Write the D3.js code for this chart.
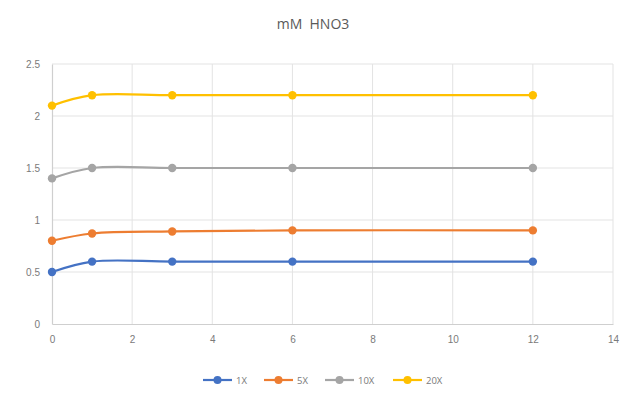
<!DOCTYPE html>
<html>
<head>
<meta charset="utf-8">
<script src="https://cdn.jsdelivr.net/npm/d3@7"></script>
<style>
  html, body { margin: 0; padding: 0; background: #fff; }
  svg { display: block; font-family: "Open Sans", "Liberation Sans", sans-serif; }
</style>
</head>
<body>
<svg id="chart" width="622" height="394"></svg>
<script>
// Sampling times
const times = [0, 1, 3, 6, 12];
// Concentration series
const seriesNames = ["1X", "5X", "10X", "20X"];
const values1X  = [0.5, 0.6, 0.6, 0.6, 0.6];
const values5X  = [0.8, 0.87, 0.89, 0.9, 0.9];
const values10X = [1.4, 1.5, 1.5, 1.5, 1.5];
const values20X = [2.1, 2.2, 2.2, 2.2, 2.2];
const seriesColors = ["#4472c4", "#ed7d31", "#a5a5a5", "#ffc000"];
const xTicks = [0, 2, 4, 6, 8, 10, 12, 14];
const yTicks = [0, 0.5, 1, 1.5, 2, 2.5];
const titleText = "mM  HNO3";

const series = [values1X, values5X, values10X, values20X].map((vals, i) => ({
  name: seriesNames[i],
  color: seriesColors[i],
  points: times.map((t, j) => ({ x: t, y: vals[j] }))
}));

const svg = d3.select("#chart");
const margin = { left: 52, right: 9, top: 64, bottom: 70 };
const W = 622, H = 394;

const x = d3.scaleLinear().domain([0, 14]).range([margin.left, W - margin.right]);
const y = d3.scaleLinear().domain([0, 2.5]).range([H - margin.bottom, margin.top]);

// Gridlines
svg.append("g")
  .selectAll("line.hgrid")
  .data(yTicks.slice(1))
  .join("line")
  .attr("x1", x(0)).attr("x2", x(14))
  .attr("y1", d => y(d)).attr("y2", d => y(d))
  .attr("stroke", "#e3e3e3").attr("stroke-width", 1);

svg.append("g")
  .selectAll("line.vgrid")
  .data(xTicks.slice(1))
  .join("line")
  .attr("x1", d => x(d)).attr("x2", d => x(d))
  .attr("y1", y(0)).attr("y2", y(2.5))
  .attr("stroke", "#e3e3e3").attr("stroke-width", 1);

// Axes
const xAxis = svg.append("g")
  .attr("transform", `translate(0,${y(0)})`)
  .call(d3.axisBottom(x).tickValues(xTicks).tickSize(0).tickPadding(12));
const yAxis = svg.append("g")
  .attr("transform", `translate(${x(0)},0)`)
  .call(d3.axisLeft(y).tickValues(yTicks).tickSize(0).tickPadding(12).tickFormat(d3.format("")));

[xAxis, yAxis].forEach(a => {
  a.select(".domain").attr("stroke", "#cfcfcf").attr("stroke-width", 1.2);
  a.selectAll("text").attr("fill", "#7a7a7a").style("font-size", "10px");
});

// Series lines
const line = d3.line()
  .x(d => x(d.x))
  .y(d => y(d.y))
  .curve(d3.curveCatmullRom.alpha(0.5));

const g = svg.append("g");
series.forEach(s => {
  g.append("path")
    .datum(s.points)
    .attr("d", line)
    .attr("fill", "none")
    .attr("stroke", s.color)
    .attr("stroke-width", 2.2);
  g.selectAll(null)
    .data(s.points)
    .join("circle")
    .attr("cx", d => x(d.x))
    .attr("cy", d => y(d.y))
    .attr("r", 4.2)
    .attr("fill", s.color);
});

// Title
svg.append("text")
  .attr("x", 313).attr("y", 29)
  .attr("text-anchor", "middle")
  .attr("fill", "#595959")
  .style("font-size", "14px")
  .style("white-space", "pre")
  .attr("xml:space", "preserve")
  .text(titleText);

// Legend
const legendY = 380;
const legendOffsets = [203, 264, 325, 393];
const legend = svg.append("g");
series.forEach((s, i) => {
  const lx = legendOffsets[i];
  legend.append("line")
    .attr("x1", lx).attr("x2", lx + 29)
    .attr("y1", legendY).attr("y2", legendY)
    .attr("stroke", s.color).attr("stroke-width", 2.2);
  legend.append("circle")
    .attr("cx", lx + 14.5).attr("cy", legendY).attr("r", 4)
    .attr("fill", s.color);
  legend.append("text")
    .attr("x", lx + 33).attr("y", legendY + 3.5)
    .attr("fill", "#7a7a7a")
    .style("font-size", "9.5px")
    .text(s.name);
});
</script>
</body>
</html>
